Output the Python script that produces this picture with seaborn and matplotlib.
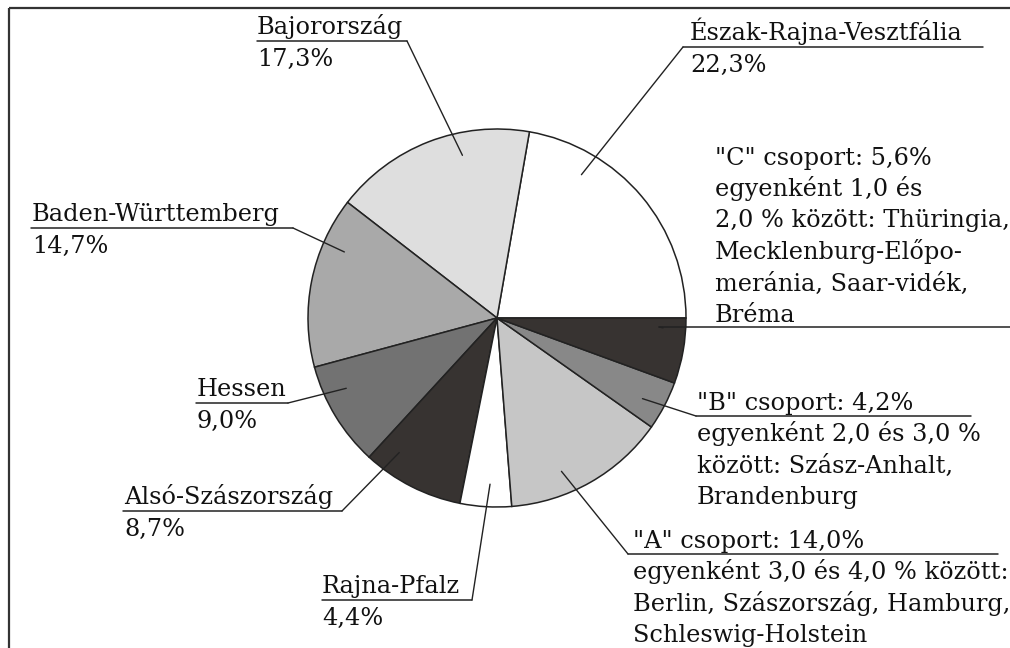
import numpy as np
import matplotlib
matplotlib.use("Agg")
import matplotlib.pyplot as plt
import seaborn as sns
from matplotlib.patches import Rectangle

# adatok: szövetségi tartományok részesedése (%)
names = ["Észak-Rajna-Vesztfália", "Bajorország", "Baden-Württemberg", "Hessen",
         "Alsó-Szászország", "Rajna-Pfalz", '"A" csoport', '"B" csoport', '"C" csoport']
shares = [22.3, 17.3, 14.7, 9.0, 8.7, 4.4, 14.0, 4.2, 5.6]
colors = ["#ffffff", "#dedede", "#a9a9a9", "#727272", "#373331",
          "#ffffff", "#c6c6c6", "#888888", "#373331"]
details = {
    '"A" csoport': ["egyenként 3,0 és 4,0 % között:", "Berlin, Szászország, Hamburg,",
                    "Schleswig-Holstein"],
    '"B" csoport': ["egyenként 2,0 és 3,0 %", "között: Szász-Anhalt,", "Brandenburg"],
    '"C" csoport': ["egyenként 1,0 és", "2,0 % között: Thüringia,", "Mecklenburg-Előpo-",
                    "meránia, Saar-vidék,", "Bréma"],
}

# felirat elrendezés (pixel): szöveg x, aláhúzás y, aláhúzás x0-x1, csatlakozás x, vezetővonal szöge
LAYOUT = {
    "Észak-Rajna-Vesztfália": (690, 47, 683, 983, 683, 59.5),
    "Bajorország": (257, 41, 257, 407, 407, 102),
    "Baden-Württemberg": (32, 228, 31, 293, 293, 156.6),
    "Hessen": (197, 403, 196, 288, 288, 205),
    "Alsó-Szászország": (124, 511, 123, 342, 342, 234),
    "Rajna-Pfalz": (322, 600, 322, 472, 472, 267.6),
    '"A" csoport': (633, 554, 628, 998, 628, 292.8),
    '"B" csoport': (697, 416, 696, 971, 696, 331),
    '"C" csoport': (715, 327, 659, 1012, 659, 356.6),
}

W, H = 1010, 648
CX, CY, R = 497, 318, 189
FS = 17.3

sns.set_style("white")
plt.rcParams["font.family"] = ["DejaVu Serif"]

fig = plt.figure(figsize=(W / 100, H / 100), dpi=100)
ax = fig.add_axes([0, 0, 1, 1])

# kördiagram (invertált y tengely miatt counterclock=False)
ax.pie(shares, colors=colors, startangle=0, counterclock=False, center=(CX, CY),
       radius=R, wedgeprops=dict(edgecolor="#222222", linewidth=1.1), frame=True)
ax.set_xlim(0, W)
ax.set_ylim(H, 0)
ax.set_aspect("equal")
ax.axis("off")

ax.add_patch(Rectangle((9, 8), W + 20, H + 20, fill=False, edgecolor="#333333",
                       linewidth=1.6, clip_on=True))


def pct(v):
    return f"{v:.1f}".replace(".", ",") + "%"


for name, v in zip(names, shares):
    tx, uy, x0, x1, cx, ang = LAYOUT[name]
    a = np.deg2rad(ang)
    px, py = CX + 0.88 * R * np.cos(a), CY - 0.88 * R * np.sin(a)
    ax.plot([x0, x1], [uy, uy], color="#222222", lw=1.1)
    ax.plot([px, cx], [py, uy], color="#222222", lw=1.0)
    kw = dict(fontsize=FS, va="baseline", ha="left", color="#111111")
    if name == '"C" csoport':
        lines = [f"{name}: {pct(v)}"] + details[name]
        base = uy - 5 - 31.5 * (len(lines) - 1)
        for i, ln in enumerate(lines):
            ax.text(tx, base + 31.5 * i, ln, **kw)
    elif name in details:
        ax.text(tx, uy - 6, f"{name}: {pct(v)}", **kw)
        for i, ln in enumerate(details[name]):
            ax.text(tx, uy + 25 + 31.5 * i, ln, **kw)
    else:
        ax.text(tx, uy - 7, name, **kw)
        ax.text(tx, uy + 25, pct(v), **kw)

fig.savefig("out.png", dpi=100)
